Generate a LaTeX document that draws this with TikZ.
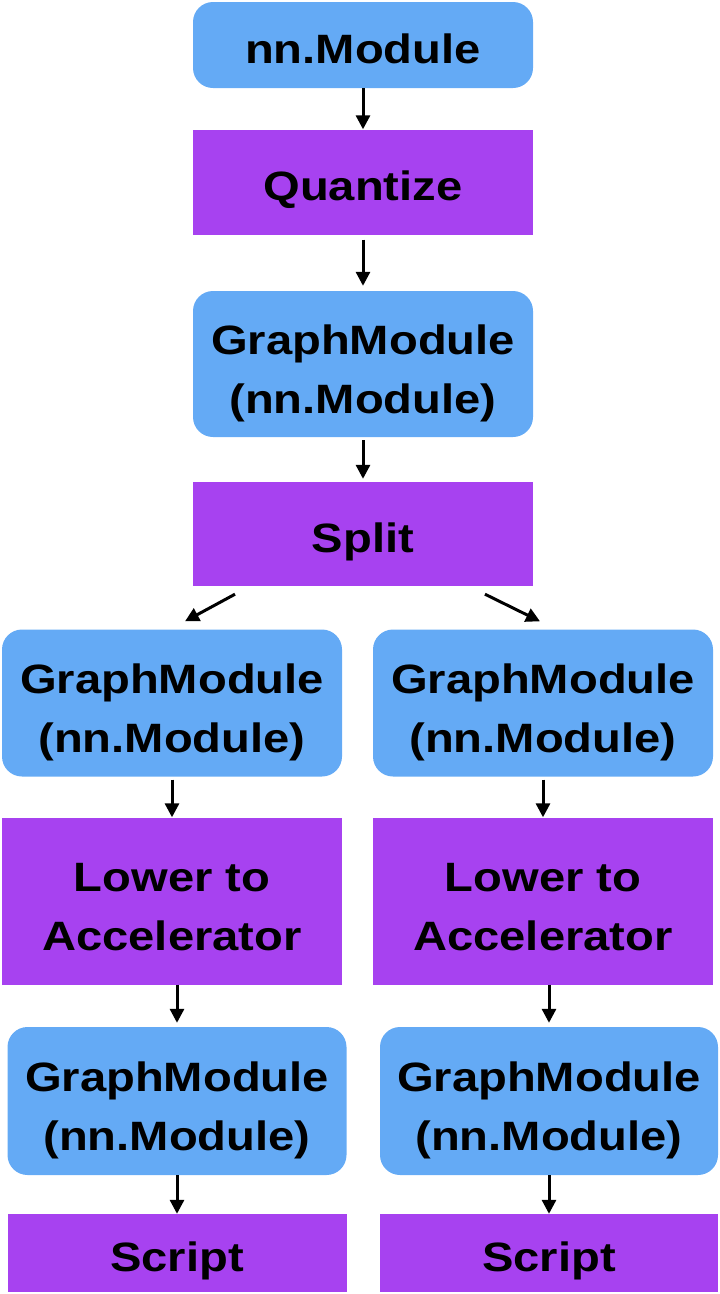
\documentclass[tikz,border=0pt]{standalone}
\usepackage{fontspec}
\setmainfont{Liberation Sans}[FakeStretch=1.15]
\usetikzlibrary{arrows.meta,calc}
\definecolor{modblue}{RGB}{100,170,245}
\definecolor{passpurple}{RGB}{167,66,240}

\begin{document}
\begin{tikzpicture}[x=1pt, y=-1pt,
        module/.style={fill=modblue, rounded corners=20pt, minimum width=340pt, align=center,
            font=\fontsize{41}{59}\selectfont\bfseries, text=black},
        pass/.style={fill=passpurple, minimum width=340pt, align=center,
            font=\fontsize{41}{59}\selectfont\bfseries, text=black},
        oneline/.style={text height=47pt, text depth=11pt},
        twoline/.style={text height=106pt, text depth=8pt},
        flow/.style={line width=3pt, -{Triangle[width=14pt,length=14pt]}}]
    \useasboundingbox (0,0) rectangle (720,1294);
    % main chain
    \node[module, oneline, minimum height=86pt] (nnmod) at (363,45) {nn.Module};
    \node[pass, oneline, minimum height=105pt] (quant) at (363,182) {Quantize};
    \node[module, twoline, minimum height=146pt] (gm) at (363,364) {GraphModule\\(nn.Module)};
    \node[pass, oneline, minimum height=104pt] (split) at (363,534) {Split};
    % left branch
    \node[module, twoline, minimum height=147pt] (gmL) at (172,703) {GraphModule\\(nn.Module)};
    \node[pass, twoline, minimum height=167pt] (lowerL) at (172,901) {Lower to\\Accelerator};
    \node[module, twoline, minimum height=148pt, minimum width=339pt] (gmLL) at (177,1101) {GraphModule\\(nn.Module)};
    \node[pass, oneline, minimum height=78pt, minimum width=339pt] (scriptL) at (177,1253) {Script};
    % right branch
    \node[module, twoline, minimum height=147pt] (gmR) at (543,703) {GraphModule\\(nn.Module)};
    \node[pass, twoline, minimum height=167pt] (lowerR) at (543,901) {Lower to\\Accelerator};
    \node[module, twoline, minimum height=148pt, minimum width=338pt] (gmRR) at (549,1101) {GraphModule\\(nn.Module)};
    \node[pass, oneline, minimum height=78pt, minimum width=338pt] (scriptR) at (549,1253) {Script};

    \draw[flow] (nnmod) -- (quant);
    \draw[flow, shorten <=5pt, shorten >=5pt] (quant) -- (gm);
    \draw[flow, shorten <=3pt, shorten >=3pt] (gm) -- (split);
    \draw[flow] ($(split.south)+(-128,8)$) -- ($(gmL.north)+(13,-8)$);
    \draw[flow] ($(split.south)+(122,8)$) -- ($(gmR.north)+(-3,-8)$);
    \draw[flow, shorten <=3pt] (gmL) -- (lowerL);
    \draw[flow, shorten <=3pt] (gmR) -- (lowerR);
    \draw[flow, shorten >=4pt] (lowerL.south -| gmLL.north) -- (gmLL.north);
    \draw[flow, shorten >=4pt] (lowerR.south -| gmRR.north) -- (gmRR.north);
    \draw[flow] (gmLL) -- (scriptL);
    \draw[flow] (gmRR) -- (scriptR);
\end{tikzpicture}
\end{document}
